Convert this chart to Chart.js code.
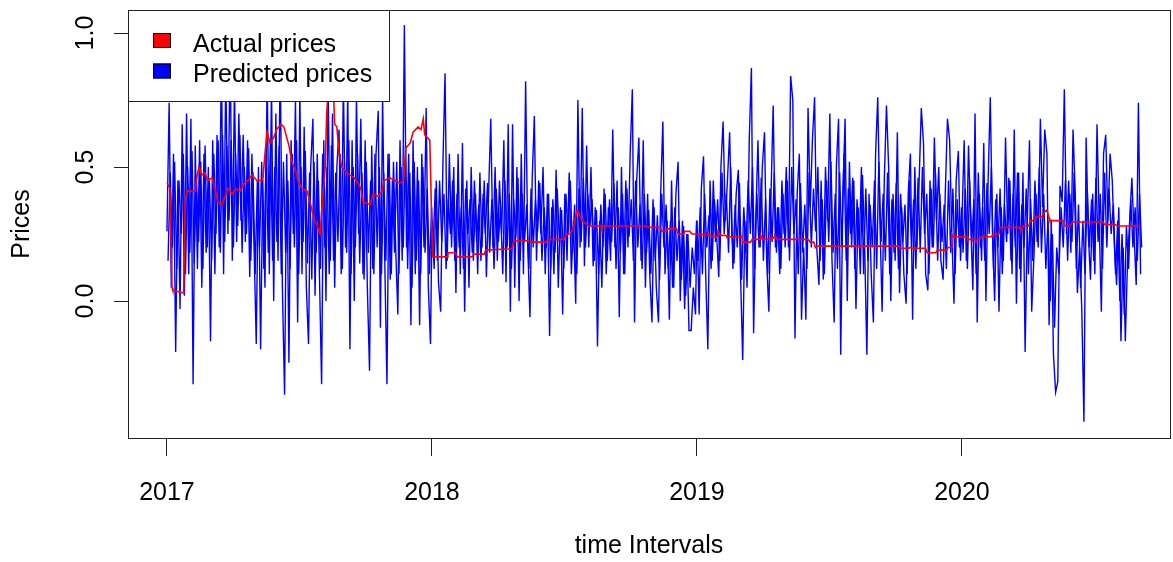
<!DOCTYPE html>
<html>
<head>
<meta charset="utf-8">
<title>Actual vs predicted prices</title>
<script src="https://cdn.jsdelivr.net/npm/chart.js@4.4.1/dist/chart.umd.min.js"></script>
<style>
  html, body { margin: 0; padding: 0; background: #fff; }
  #wrap { width: 1173px; height: 562px; }
</style>
</head>
<body>
<div id="wrap"><canvas id="chart" width="1173" height="562"></canvas></div>
<script>
const xTickValues = [2017, 2018, 2019, 2020];
const xTickLabels = ["2017", "2018", "2019", "2020"];
const yTickValues = [0, 0.5, 1];
const yTickLabels = ["0.0", "0.5", "1.0"];
const seriesNames = ["Actual prices", "Predicted prices"];

// predicted prices, one value every 3 days from 1 Jan of each year (peaks and dips)
const STEP_DAYS = 3;
const pred2017 = [
    0.26, 0.74, 0.05, 0.55, -0.19, 0.45, -0.03, 0.66, 0.02, 0.70,
    0.10, 0.68, -0.31, 0.58, 0.12, 0.60, 0.05, 0.55, 0.18, 0.50,
    -0.15, 0.60, 0.10, 0.62, 0.20, 0.90, 0.10, 0.85, 0.25, 0.95,
    0.15, 0.80, 0.22, 0.70, 0.30, 0.62, 0.22, 0.60, 0.09, 0.55,
    0.20, -0.16, 0.50, -0.18, 0.45, 0.05, 0.85, 0.10, 0.80, 0.00,
    0.70, 0.15, 0.90, 0.05, -0.35, 0.55, -0.23, 0.60, 0.25, 0.75,
    -0.08, 0.78, 0.10, 0.65, 0.05, -0.16, 0.50, 0.68, 0.02, 0.55,
    0.10, -0.31, 0.60, 0.00, 0.80, 0.15, 0.70, 0.05, 0.50, 0.64,
    0.10, 0.82, 0.20, 0.78, -0.18, 0.60, 0.00, 0.76, 0.25, 0.68,
    0.10, 0.60, 0.05, -0.26, 0.58, 0.10, 0.55, 0.71, -0.10, 0.76,
    0.15, -0.31, 0.55, 0.10, 0.52, 0.20, -0.05, 0.60, 0.15, 1.03,
    0.20, 0.55, -0.09, 0.60, 0.10, 0.50, -0.09, 0.55, 0.20, 0.72,
    0.05, -0.16
];
const pred2018 = [
    0.30, 0.12, 0.45, 0.07, -0.04, 0.50, 0.85, 0.15, 0.55, 0.20,
    0.50, 0.03, 0.55, 0.10, 0.59, -0.04, 0.45, 0.05, 0.50, 0.15,
    0.40, 0.10, 0.48, 0.20, 0.45, 0.09, 0.40, 0.68, 0.20, 0.50,
    0.15, 0.45, 0.25, 0.60, 0.07, 0.66, -0.04, 0.66, 0.05, 0.50,
    0.00, 0.55, 0.10, 0.82, 0.20, -0.06, 0.45, 0.69, 0.15, 0.45,
    0.25, 0.50, 0.10, 0.40, -0.13, 0.35, 0.10, 0.49, 0.05, 0.35,
    -0.05, 0.40, 0.15, 0.48, 0.10, 0.30, -0.01, 0.75, 0.20, 0.72,
    0.13, 0.58, 0.20, 0.50, 0.13, 0.35, -0.17, 0.30, 0.05, 0.42,
    0.10, 0.35, 0.15, 0.64, 0.20, 0.45, -0.06, 0.50, 0.10, 0.45,
    0.20, 0.55, 0.79, -0.08, 0.45, 0.61, 0.15, 0.60, 0.05, 0.40,
    0.10, -0.08, 0.35, 0.05, -0.08, 0.40, 0.67, 0.10, 0.30, -0.07,
    0.45, 0.05, 0.40, 0.52, 0.00, 0.30, -0.03, 0.25, -0.11, -0.11,
    0.05, -0.05
];
const pred2019 = [
    0.30, -0.05, 0.42, 0.54, 0.10, -0.18, 0.45, 0.15, 0.38, 0.25,
    0.09, 0.50, 0.67, 0.30, 0.45, 0.63, 0.25, 0.14, 0.40, 0.49,
    0.10, -0.22, 0.30, 0.05, 0.60, 0.87, -0.12, 0.30, 0.60, 0.20,
    0.50, 0.63, 0.15, -0.04, 0.40, 0.73, 0.20, 0.35, 0.10, 0.45,
    0.25, 0.50, 0.20, 0.84, 0.75, -0.14, 0.40, 0.55, -0.07, 0.20,
    -0.07, 0.72, 0.35, 0.60, 0.76, 0.20, 0.06, 0.45, 0.08, 0.50,
    0.30, 0.70, 0.15, -0.08, 0.50, 0.68, -0.20, 0.40, 0.68, 0.00,
    0.52, 0.20, 0.45, -0.03, 0.35, 0.10, 0.47, 0.20, -0.20, 0.40,
    0.10, -0.08, 0.55, 0.76, 0.30, -0.04, 0.45, 0.73, 0.50, 0.00,
    0.40, 0.15, 0.63, 0.03, 0.35, 0.10, -0.01, 0.40, 0.55, -0.07,
    0.50, 0.20, 0.45, 0.72, 0.59, 0.10, 0.04, 0.45, 0.20, 0.61,
    0.30, 0.50, 0.15, 0.08, 0.40, 0.68, 0.60, 0.25, -0.01, 0.45,
    0.56, 0.15
];
const pred2020 = [
    0.30, 0.60, 0.15, 0.58, 0.30, 0.04, 0.70, -0.08, 0.40, 0.15,
    0.59, 0.00, 0.45, 0.76, 0.25, 0.00, 0.40, -0.04, 0.35, 0.15,
    0.61, 0.25, 0.45, 0.10, 0.64, -0.01, 0.48, 0.07, 0.48, -0.19,
    0.30, 0.60, -0.04, 0.16, 0.40, 0.20, 0.68, 0.35, 0.64, 0.55,
    -0.09, 0.30, -0.20, -0.34, -0.30, 0.43, 0.37, 0.79, 0.25, 0.45,
    0.18, 0.64, 0.40, 0.03, 0.20, -0.03, -0.45, 0.61, 0.25, 0.08,
    0.40, 0.10, 0.66, 0.30, -0.04, 0.55, 0.62, 0.30, 0.55, 0.45,
    0.20, 0.06, 0.35, -0.15, 0.20, -0.15, 0.15, 0.30, 0.46, 0.25,
    0.06, 0.74, 0.10
];

// the dense middle band of the predicted prices, the days in between (day 1.5, 4.5, ...)
const core2017 = [
    0.15, 0.48, 0.20, 0.52, 0.12, 0.45, 0.25, 0.55, 0.10, 0.50,
    0.18, 0.56, 0.14, 0.47, 0.22, 0.52, 0.12, 0.58, 0.20, 0.45,
    0.15, 0.55, 0.25, 0.60, 0.18, 0.62, 0.22, 0.58, 0.30, 0.60,
    0.20, 0.55, 0.28, 0.62, 0.18, 0.50, 0.25, 0.57, 0.15, 0.48,
    0.10, 0.45, 0.20, 0.52, 0.12, 0.55, 0.18, 0.60, 0.15, 0.50,
    0.22, 0.58, 0.10, 0.52, 0.18, 0.45, 0.12, 0.55, 0.20, 0.60,
    0.10, 0.50, 0.22, 0.56, 0.14, 0.48, 0.08, 0.52, 0.18, 0.45,
    0.12, 0.55, 0.20, 0.50, 0.10, 0.58, 0.15, 0.48, 0.22, 0.55,
    0.12, 0.52, 0.18, 0.60, 0.10, 0.50, 0.20, 0.55, 0.14, 0.48,
    0.08, 0.52, 0.18, 0.45, 0.12, 0.55, 0.20, 0.50, 0.10, 0.48,
    0.15, 0.55, 0.08, 0.45, 0.18, 0.52, 0.10, 0.50, 0.20, 0.58,
    0.12, 0.48, 0.05, 0.52, 0.15, 0.45, 0.10, 0.50, 0.18, 0.42,
    0.10, 0.35
];
const core2018 = [
    0.20, 0.42, 0.15, 0.45, 0.22, 0.40, 0.12, 0.38, 0.25, 0.45,
    0.15, 0.40, 0.20, 0.35, 0.12, 0.42, 0.25, 0.38, 0.18, 0.45,
    0.22, 0.36, 0.15, 0.40, 0.25, 0.44, 0.18, 0.38, 0.12, 0.42,
    0.22, 0.35, 0.10, 0.45, 0.20, 0.40, 0.12, 0.38, 0.24, 0.46,
    0.15, 0.40, 0.22, 0.36, 0.12, 0.42, 0.20, 0.38, 0.26, 0.44,
    0.15, 0.35, 0.20, 0.40, 0.12, 0.38, 0.18, 0.42, 0.22, 0.34,
    0.12, 0.40, 0.25, 0.45, 0.18, 0.36, 0.10, 0.42, 0.22, 0.46,
    0.20, 0.40, 0.28, 0.38, 0.15, 0.34, 0.10, 0.36, 0.20, 0.40,
    0.15, 0.38, 0.22, 0.44, 0.12, 0.35, 0.18, 0.40, 0.10, 0.42,
    0.24, 0.38, 0.15, 0.45, 0.20, 0.36, 0.12, 0.40, 0.18, 0.34,
    0.10, 0.38, 0.15, 0.32, 0.08, 0.40, 0.20, 0.36, 0.12, 0.30,
    0.05, 0.35, 0.15, 0.30, 0.08, 0.28, 0.02, 0.25, 0.05, 0.20,
    0.10, 0.30
];
const core2019 = [
    0.15, 0.35, 0.10, 0.40, 0.20, 0.32, 0.12, 0.45, 0.22, 0.38,
    0.15, 0.48, 0.25, 0.40, 0.18, 0.50, 0.12, 0.36, 0.20, 0.44,
    0.08, 0.35, 0.18, 0.45, 0.25, 0.50, 0.12, 0.40, 0.20, 0.46,
    0.15, 0.38, 0.10, 0.42, 0.22, 0.48, 0.18, 0.35, 0.12, 0.40,
    0.20, 0.45, 0.15, 0.50, 0.25, 0.38, 0.10, 0.44, 0.18, 0.36,
    0.12, 0.48, 0.20, 0.42, 0.26, 0.50, 0.15, 0.38, 0.10, 0.45,
    0.22, 0.52, 0.18, 0.40, 0.12, 0.48, 0.20, 0.55, 0.15, 0.42,
    0.25, 0.46, 0.12, 0.38, 0.20, 0.50, 0.10, 0.42, 0.15, 0.36,
    0.20, 0.45, 0.12, 0.52, 0.22, 0.40, 0.15, 0.48, 0.10, 0.38,
    0.18, 0.44, 0.12, 0.40, 0.22, 0.36, 0.10, 0.45, 0.20, 0.38,
    0.12, 0.46, 0.18, 0.50, 0.25, 0.40, 0.10, 0.42, 0.20, 0.48,
    0.15, 0.40, 0.22, 0.36, 0.12, 0.45, 0.18, 0.42, 0.10, 0.38,
    0.20, 0.35
];
const core2020 = [
    0.18, 0.42, 0.12, 0.45, 0.22, 0.38, 0.10, 0.48, 0.20, 0.35,
    0.15, 0.44, 0.25, 0.50, 0.12, 0.38, 0.20, 0.42, 0.10, 0.36,
    0.22, 0.46, 0.15, 0.40, 0.20, 0.48, 0.12, 0.36, 0.20, 0.42,
    0.10, 0.38, 0.15, 0.45, 0.22, 0.50, 0.18, 0.40, 0.12, 0.30,
    0.00, 0.25, -0.10, 0.20, 0.10, 0.35, 0.20, 0.45, 0.15, 0.40,
    0.22, 0.48, 0.12, 0.36, 0.05, 0.30, 0.10, 0.42, 0.20, 0.38,
    0.15, 0.46, 0.22, 0.40, 0.12, 0.48, 0.20, 0.42, 0.25, 0.36,
    0.10, 0.30, 0.00, 0.25, -0.05, 0.28, 0.12, 0.38, 0.20, 0.35,
    0.15, 0.40, 0.20
];

// actual prices: days since 1 Jan 2017 where the price changes, and the price there
const actualDays = [
    0, 4, 7, 8, 23, 25, 28, 39, 41, 44,
    48, 52, 56, 62, 66, 70, 76, 80, 84, 90,
    95, 101, 106, 112, 117, 124, 132, 135, 138, 142,
    147, 151, 157, 161, 164, 168, 172, 178, 180, 186,
    193, 198, 202, 207, 211, 213, 218, 220, 223, 226,
    229, 231, 234, 237, 241, 247, 252, 258, 263, 267,
    270, 280, 284, 291, 296, 299, 307, 314, 321, 326,
    329, 335, 339, 346, 350, 353, 355, 362, 365, 366,
    386, 387, 397, 400, 420, 423, 437, 439, 475, 478,
    500, 503, 522, 525, 547, 550, 556, 560, 565, 567,
    572, 579, 581, 598, 599, 602, 660, 663, 679, 682,
    687, 689, 702, 704, 712, 713, 720, 723, 730, 749,
    751, 758, 759, 762, 770, 771, 791, 792, 793, 804,
    806, 817, 818, 821, 836, 837, 840, 883, 886, 891,
    893, 895, 1008, 1010, 1022, 1024, 1026, 1045, 1047, 1059,
    1061, 1073, 1076, 1080, 1081, 1083, 1102, 1103, 1113, 1114,
    1117, 1123, 1136, 1138, 1146, 1147, 1174, 1176, 1179, 1187,
    1189, 1196, 1197, 1205, 1208, 1212, 1215, 1216, 1234, 1237,
    1244, 1247, 1289, 1292, 1306, 1309, 1340
];
const actualValues = [
    0.44, 0.42, 0.05, 0.04, 0.03, 0.38, 0.41, 0.41, 0.46, 0.50,
    0.47, 0.48, 0.45, 0.46, 0.42, 0.37, 0.36, 0.39, 0.42, 0.40,
    0.42, 0.41, 0.44, 0.45, 0.47, 0.45, 0.45, 0.55, 0.63, 0.59,
    0.61, 0.64, 0.66, 0.65, 0.62, 0.58, 0.52, 0.48, 0.45, 0.42,
    0.41, 0.36, 0.31, 0.28, 0.25, 0.33, 0.50, 0.70, 0.82, 0.76,
    0.80, 0.66, 0.65, 0.55, 0.50, 0.48, 0.47, 0.46, 0.44, 0.42,
    0.37, 0.36, 0.40, 0.39, 0.41, 0.45, 0.46, 0.45, 0.44, 0.45,
    0.57, 0.59, 0.63, 0.65, 0.64, 0.68, 0.62, 0.60, 0.26, 0.165,
    0.165, 0.18, 0.18, 0.165, 0.165, 0.175, 0.175, 0.19, 0.195, 0.225,
    0.225, 0.22, 0.22, 0.23, 0.23, 0.25, 0.25, 0.28, 0.34, 0.33,
    0.30, 0.285, 0.28, 0.28, 0.27, 0.28, 0.28, 0.275, 0.275, 0.26,
    0.26, 0.27, 0.27, 0.25, 0.25, 0.26, 0.26, 0.25, 0.25, 0.245,
    0.24, 0.24, 0.26, 0.245, 0.245, 0.24, 0.24, 0.245, 0.22, 0.22,
    0.23, 0.23, 0.245, 0.23, 0.235, 0.245, 0.23, 0.23, 0.22, 0.22,
    0.20, 0.205, 0.205, 0.197, 0.197, 0.20, 0.197, 0.197, 0.18, 0.18,
    0.19, 0.19, 0.20, 0.20, 0.25, 0.24, 0.24, 0.23, 0.23, 0.225,
    0.23, 0.24, 0.24, 0.25, 0.25, 0.275, 0.275, 0.26, 0.28, 0.28,
    0.30, 0.30, 0.315, 0.315, 0.33, 0.34, 0.31, 0.30, 0.30, 0.28,
    0.28, 0.295, 0.295, 0.285, 0.285, 0.28, 0.28
];

function yearSeries(year, values, offsetDays) {
    return values.map((v, i) => ({ x: year + (i * STEP_DAYS + offsetDays) / 365, y: v }));
}

let predicted = []
    .concat(yearSeries(2017, pred2017, 0))
    .concat(yearSeries(2018, pred2018, 0))
    .concat(yearSeries(2019, pred2019, 0))
    .concat(yearSeries(2020, pred2020, 0));

let predictedCore = []
    .concat(yearSeries(2017, core2017, 1.5))
    .concat(yearSeries(2018, core2018, 1.5))
    .concat(yearSeries(2019, core2019, 1.5))
    .concat(yearSeries(2020, core2020, 1.5));

let actual = actualDays.map((d, i) => ({ x: 2017 + d / 365, y: actualValues[i] }));

const RED = "#ff0000";
const BLUE = "#0000ff";
const FONT = "'Liberation Sans', Arial, sans-serif";
Chart.defaults.font.family = FONT;
Chart.defaults.font.size = 25;
Chart.defaults.color = "#000";

// box around the plot + legend in the top-left corner (like base R)
const frameAndLegend = {
    id: "frameAndLegend",
    afterDraw(chart) {
        const ctx = chart.ctx;
        const a = chart.chartArea;
        ctx.save();
        ctx.strokeStyle = "#222";
        ctx.lineWidth = 1;
        ctx.strokeRect(a.left + 0.5, a.top + 0.5, a.right - a.left, a.bottom - a.top);

        ctx.fillStyle = "#fff";
        ctx.fillRect(a.left, a.top, 262, 91);
        ctx.strokeRect(a.left + 0.5, a.top + 0.5, 261, 91);

        ctx.font = "25px " + FONT;
        ctx.textBaseline = "alphabetic";
        [RED, BLUE].forEach((col, i) => {
            let top = a.top + 23 + i * 30.5;
            ctx.fillStyle = col;
            ctx.fillRect(a.left + 25, top, 18, 15);
            ctx.strokeStyle = "#000";
            ctx.strokeRect(a.left + 25.5, top + 0.5, 17, 14);
            ctx.fillStyle = "#000";
            ctx.fillText(seriesNames[i], a.left + 65, a.top + 42 + i * 30);
        });
        ctx.restore();
    }
};

chart = new Chart(document.getElementById("chart"), {
    type: "line",
    data: {
        datasets: [
            {
                label: seriesNames[0],
                data: actual,
                borderColor: RED,
                borderWidth: 1.6,
                pointRadius: 0,
                tension: 0
            },
            {
                label: seriesNames[1],
                data: predicted,
                borderColor: BLUE,
                borderWidth: 1.4,
                pointRadius: 0,
                tension: 0
            },
            {
                label: seriesNames[1],
                data: predictedCore,
                borderColor: BLUE,
                borderWidth: 1.4,
                pointRadius: 0,
                tension: 0
            }
        ]
    },
    options: {
        responsive: false,
        animation: false,
        events: [],
        layout: { padding: { left: 0, right: 3, top: 10, bottom: 0 } },
        plugins: {
            legend: { display: false },
            tooltip: { enabled: false }
        },
        scales: {
            x: {
                type: "linear",
                bounds: "data",
                min: 2016.853,
                max: 2020.785,
                afterBuildTicks: s => { s.ticks = xTickValues.map(v => ({ value: v })); },
                afterFit: s => {
                    s.height = 124;
                    s.paddingLeft = 0;
                    s.paddingRight = 0;
                },
                ticks: {
                    padding: 22,
                    maxRotation: 0,
                    autoSkip: false,
                    callback: (v, i) => xTickLabels[i]
                },
                grid: { drawOnChartArea: false, tickLength: 18, color: "#222" },
                border: { display: false },
                title: { display: true, text: "time Intervals", padding: { top: 0, bottom: 1 } }
            },
            y: {
                type: "linear",
                bounds: "data",
                min: -0.511,
                max: 1.086,
                afterBuildTicks: s => { s.ticks = yTickValues.map(v => ({ value: v })); },
                afterFit: s => {
                    s.width = 128;
                    s.paddingTop = 0;
                    s.paddingBottom = 0;
                },
                ticks: {
                    padding: 11,
                    minRotation: 90,
                    maxRotation: 90,
                    crossAlign: "center",
                    autoSkip: false,
                    callback: (v, i) => yTickLabels[i]
                },
                grid: { drawOnChartArea: false, tickLength: 14, color: "#222" },
                border: { display: false },
                title: { display: true, text: "Prices", padding: { top: 7, bottom: 0 } }
            }
        }
    },
    plugins: [frameAndLegend]
});
</script>
</body>
</html>
